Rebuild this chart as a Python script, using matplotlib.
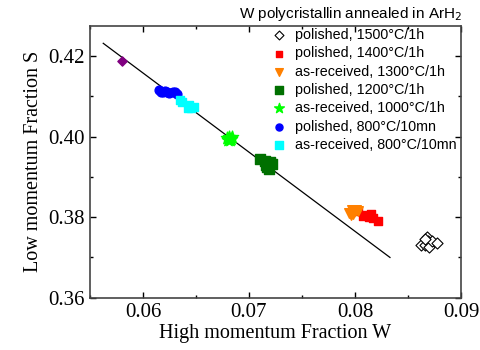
import matplotlib
matplotlib.use("Agg")
import matplotlib.pyplot as plt
from matplotlib.ticker import MultipleLocator

# single purple point (not in legend)
w_purple = [0.0580]
s_purple = [0.4188]

w_1500 = [0.0862, 0.0866, 0.0868, 0.0869, 0.0870, 0.0873, 0.0877, 0.0866]
s_1500 = [0.3730, 0.3732, 0.3750, 0.3742, 0.3727, 0.3740, 0.3735, 0.3745]

w_1400 = [0.0803, 0.0808, 0.0810, 0.0813, 0.0815, 0.0817, 0.0822]
s_1400 = [0.3815, 0.3803, 0.3806, 0.3800, 0.3807, 0.3799, 0.3790]

w_1300 = [0.0794, 0.0797, 0.0799, 0.0801, 0.0796, 0.0803, 0.0798]
s_1300 = [0.3810, 0.3818, 0.3812, 0.3818, 0.3805, 0.3815, 0.3808]

w_1200 = [0.0710, 0.0715, 0.0718, 0.0720, 0.0722, 0.0717, 0.0719, 0.0716]
s_1200 = [0.3945, 0.3940, 0.3935, 0.3938, 0.3932, 0.3925, 0.3920, 0.3930]

w_1000 = [0.0679, 0.0681, 0.0683, 0.0684, 0.0682, 0.0680]
s_1000 = [0.3997, 0.4000, 0.3995, 0.3999, 0.3992, 0.3993]

w_800p = [0.0615, 0.0617, 0.0619, 0.0621, 0.0623, 0.0625, 0.0628, 0.0630, 0.0632]
s_800p = [0.4115, 0.4112, 0.4110, 0.4114, 0.4110, 0.4108, 0.4112, 0.4110, 0.4107]

w_800a = [0.0635, 0.0637, 0.0643, 0.0645, 0.0648, 0.0642]
s_800a = [0.4090, 0.4085, 0.4078, 0.4072, 0.4075, 0.4072]

fit_w = [0.05625, 0.0833]
fit_s = [0.4232, 0.3700]

fig = plt.figure(figsize=(4.8, 3.5), dpi=100)
ax = fig.add_axes([90 / 480, 1 - 297.7 / 350, 371 / 480, 271.7 / 350])

serif = "Liberation Serif"
sans = "Liberation Sans"

ax.plot(fit_w, fit_s, color="black", lw=0.9, zorder=1)
ax.scatter(w_purple, s_purple, marker="D", s=22, color="#800080", zorder=3)
ax.scatter(w_1500, s_1500, marker="D", s=32, facecolor="white",
           edgecolor="black", lw=0.8, label="polished, 1500°C/1h", zorder=3)
ax.scatter(w_1400, s_1400, marker="s", s=36, color="#ff0000",
           label="polished, 1400°C/1h", zorder=3)
ax.scatter(w_1300, s_1300, marker="v", s=48, color="#ff8000",
           label="as-received, 1300°C/1h", zorder=3)
ax.scatter(w_1200, s_1200, marker="s", s=42, color="#007000",
           label="polished, 1200°C/1h", zorder=3)
ax.scatter(w_1000, s_1000, marker="*", s=85, color="#00ff00",
           label="as-received, 1000°C/1h", zorder=3)
ax.scatter(w_800p, s_800p, marker="o", s=40, color="#0000ff",
           label="polished, 800°C/10mn", zorder=3)
ax.scatter(w_800a, s_800a, marker="s", s=40, color="#00ffff",
           label="as-received, 800°C/10mn", zorder=3)

ax.set_xlim(0.055, 0.09)
ax.set_ylim(0.36, 0.4275)
ax.xaxis.set_major_locator(MultipleLocator(0.01))
ax.xaxis.set_minor_locator(MultipleLocator(0.005))
ax.yaxis.set_major_locator(MultipleLocator(0.02))
ax.yaxis.set_minor_locator(MultipleLocator(0.01))
ax.xaxis.set_major_formatter(plt.FuncFormatter(lambda v, p: f"{v:.2f}"))
ax.yaxis.set_major_formatter(plt.FuncFormatter(lambda v, p: f"{v:.2f}"))
ax.tick_params(which="both", direction="in", top=True, right=True, width=1.0)
ax.tick_params(which="major", length=4)
ax.tick_params(which="minor", length=2.5)
for lab in ax.get_xticklabels() + ax.get_yticklabels():
    lab.set_fontfamily(serif)
    lab.set_fontsize(15)
for sp in ax.spines.values():
    sp.set_linewidth(1.2)
    sp.set_color("#444444")

ax.set_xlabel("High momentum Fraction W", family=serif, fontsize=14.5, labelpad=2)
ax.set_ylabel("Low momentum Fraction S", family=serif, fontsize=14.5, labelpad=4)

fig.text(462 / 480, 1 - 14 / 350, "W polycristallin annealed in ArH$_2$",
         family=sans, fontsize=11, ha="right", va="center")

ax.legend(loc="upper left", bbox_to_anchor=(0.447, 1.024), frameon=False,
          prop={"family": sans, "size": 10.3}, handletextpad=0.15,
          labelspacing=0.3, scatterpoints=1, markerscale=0.8,
          borderaxespad=0.2)

fig.savefig("out.png", dpi=100)
